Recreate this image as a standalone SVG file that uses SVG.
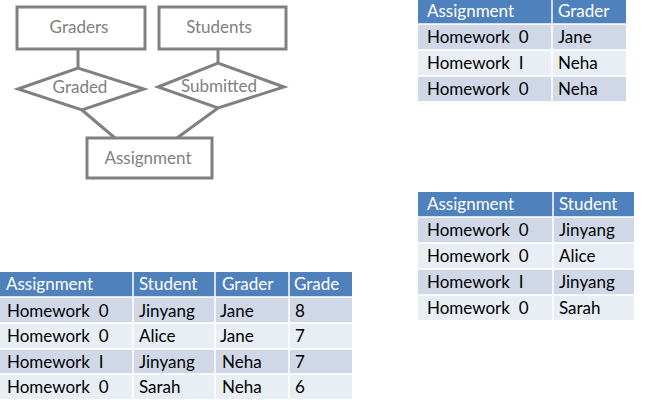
<svg xmlns="http://www.w3.org/2000/svg" width="646" height="404" viewBox="0 0 646 404">
<style>
.er{fill:#ffffff;stroke:#808080;stroke-width:3}
.ln{stroke:#808080;stroke-width:3;fill:none}
.et{font-family:Lato,"Open Sans","DejaVu Sans",sans-serif;font-size:17px;fill:#808080;text-anchor:middle}
.hd{fill:#4F81BD}
.dk{fill:#D0D8E8}
.lt{fill:#E9EDF4}
.grid{stroke:#ffffff;stroke-width:1.5;fill:none}
.th{font-family:Lato,"Open Sans","DejaVu Sans",sans-serif;font-size:17px;fill:#ffffff}
.td{font-family:Lato,"Open Sans","DejaVu Sans",sans-serif;font-size:17px;fill:#000000}
</style>
<rect width="646" height="404" fill="#ffffff"/>
<g id="connectors">
<line class="ln" x1="78" y1="49" x2="78" y2="68"/>
<line class="ln" x1="218" y1="49" x2="218" y2="63"/>
<line class="ln" x1="82" y1="110" x2="115" y2="138"/>
<line class="ln" x1="218" y1="108" x2="177" y2="138"/>
</g>
<g id="graders"><rect class="er" x="17" y="7" width="128" height="42"/><text class="et" x="79" y="33">Graders</text></g>
<g id="students"><rect class="er" x="159" y="7" width="127" height="42"/><text class="et" x="219" y="33">Students</text></g>
<g id="graded"><polygon class="er" points="18,89 78,68 144,89 82,110"/><text class="et" x="80" y="93">Graded</text></g>
<g id="submitted"><polygon class="er" points="158,87 218,63 284,87 218,108"/><text class="et" x="219" y="92">Submitted</text></g>
<g id="assignment"><rect class="er" x="87" y="138" width="125" height="40"/><text class="et" x="148" y="164">Assignment</text></g>

<g id="table-graded">
<rect class="hd" x="418" y="0" width="208" height="24"/>
<rect class="dk" x="418" y="24" width="208" height="26"/>
<rect class="lt" x="418" y="50" width="208" height="26"/>
<rect class="dk" x="418" y="76" width="208" height="25"/>
<path class="grid" d="M552,0V101M418,24H626M418,50H626M418,76H626"/>
<text class="th" x="427" y="17">Assignment</text><text class="th" x="558" y="17">Grader</text>
<text class="td" x="427" y="43" xml:space="preserve">Homework  0</text><text class="td" x="558" y="43">Jane</text>
<text class="td" x="427" y="69" xml:space="preserve">Homework  I</text><text class="td" x="558" y="69">Neha</text>
<text class="td" x="427" y="95" xml:space="preserve">Homework  0</text><text class="td" x="558" y="95">Neha</text>
</g>

<g id="table-submitted">
<rect class="hd" x="418" y="192" width="216" height="25"/>
<rect class="dk" x="418" y="217" width="216" height="26"/>
<rect class="lt" x="418" y="243" width="216" height="26"/>
<rect class="dk" x="418" y="269" width="216" height="26"/>
<rect class="lt" x="418" y="295" width="216" height="25"/>
<path class="grid" d="M553,192V320M418,217H634M418,243H634M418,269H634M418,295H634"/>
<text class="th" x="427" y="210">Assignment</text><text class="th" x="559" y="210">Student</text>
<text class="td" x="427" y="236" xml:space="preserve">Homework  0</text><text class="td" x="559" y="236">Jinyang</text>
<text class="td" x="427" y="262" xml:space="preserve">Homework  0</text><text class="td" x="559" y="262">Alice</text>
<text class="td" x="427" y="288" xml:space="preserve">Homework  I</text><text class="td" x="559" y="288">Jinyang</text>
<text class="td" x="427" y="314" xml:space="preserve">Homework  0</text><text class="td" x="559" y="314">Sarah</text>
</g>

<g id="table-joined">
<rect class="hd" x="0" y="272" width="352" height="25"/>
<rect class="dk" x="0" y="297" width="352" height="26"/>
<rect class="lt" x="0" y="323" width="352" height="26"/>
<rect class="dk" x="0" y="349" width="352" height="25"/>
<rect class="lt" x="0" y="374" width="352" height="25"/>
<path class="grid" d="M133,272V399M215,272V399M289,272V399M0,297H352M0,323H352M0,349H352M0,374H352"/>
<text class="th" x="6" y="290">Assignment</text><text class="th" x="139" y="290">Student</text><text class="th" x="222" y="290">Grader</text><text class="th" x="294" y="290">Grade</text>
<text class="td" x="7" y="317" xml:space="preserve">Homework  0</text><text class="td" x="139" y="317">Jinyang</text><text class="td" x="220" y="317">Jane</text><text class="td" x="295" y="317">8</text>
<text class="td" x="7" y="342" xml:space="preserve">Homework  0</text><text class="td" x="139" y="342">Alice</text><text class="td" x="220" y="342">Jane</text><text class="td" x="295" y="342">7</text>
<text class="td" x="7" y="368" xml:space="preserve">Homework  I</text><text class="td" x="139" y="368">Jinyang</text><text class="td" x="222" y="368">Neha</text><text class="td" x="295" y="368">7</text>
<text class="td" x="7" y="393" xml:space="preserve">Homework  0</text><text class="td" x="139" y="393">Sarah</text><text class="td" x="222" y="393">Neha</text><text class="td" x="295" y="393">6</text>
</g>
</svg>
